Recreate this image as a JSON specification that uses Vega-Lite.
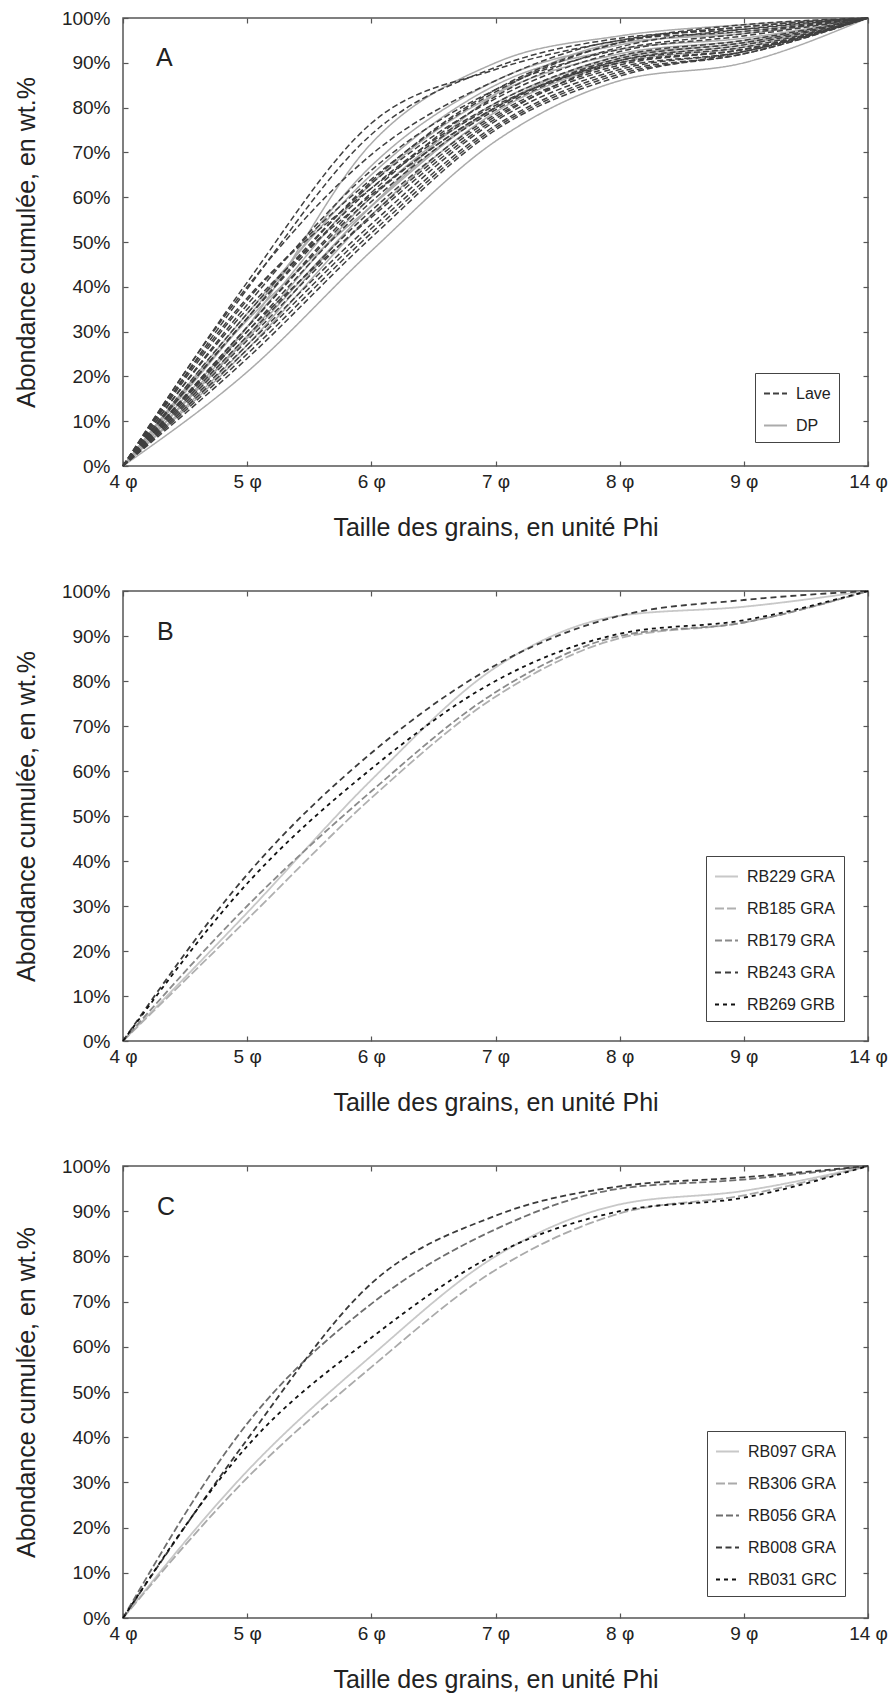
{
  "$schema": "https://vega.github.io/schema/vega-lite/v6.json",
  "background": "white",
  "padding": {"left": 13, "top": 8, "right": 5, "bottom": 5},
  "config": {
    "font": "Liberation Sans",
    "view": {"stroke": "#555555", "strokeWidth": 1.5},
    "axis": {"domain": false, "grid": false, "tickColor": "#555555", "tickSize": -5, "tickWidth": 1.2,
      "labelFont": "Liberation Sans", "labelFontSize": 19, "labelColor": "#222222",
      "titleFont": "Liberation Sans", "titleFontSize": 25, "titleFontWeight": "normal", "titleColor": "#222222"},
    "legend": {"orient": "none", "strokeColor": "#444444", "padding": 8, "symbolType": "stroke", "symbolSize": 529,
      "symbolStrokeWidth": 1.8, "labelFont": "Liberation Sans", "labelFontSize": 16, "labelColor": "#222222",
      "labelOffset": 8, "rowPadding": 11, "fillColor": "white"}
  },
  "datasets": {
    "A": [
      {"s":"D01","t":"DP","phi":"4 φ","v":0},{"s":"D01","t":"DP","phi":"5 φ","v":31},{"s":"D01","t":"DP","phi":"6 φ","v":72},{"s":"D01","t":"DP","phi":"7 φ","v":90},{"s":"D01","t":"DP","phi":"8 φ","v":96},{"s":"D01","t":"DP","phi":"9 φ","v":98.5},{"s":"D01","t":"DP","phi":"14 φ","v":100},
      {"s":"D02","t":"DP","phi":"4 φ","v":0},{"s":"D02","t":"DP","phi":"5 φ","v":33},{"s":"D02","t":"DP","phi":"6 φ","v":67},{"s":"D02","t":"DP","phi":"7 φ","v":86},{"s":"D02","t":"DP","phi":"8 φ","v":94},{"s":"D02","t":"DP","phi":"9 φ","v":97},{"s":"D02","t":"DP","phi":"14 φ","v":100},
      {"s":"D03","t":"DP","phi":"4 φ","v":0},{"s":"D03","t":"DP","phi":"5 φ","v":28.5},{"s":"D03","t":"DP","phi":"6 φ","v":58},{"s":"D03","t":"DP","phi":"7 φ","v":83},{"s":"D03","t":"DP","phi":"8 φ","v":94.5},{"s":"D03","t":"DP","phi":"9 φ","v":96.5},{"s":"D03","t":"DP","phi":"14 φ","v":100},
      {"s":"D04","t":"DP","phi":"4 φ","v":0},{"s":"D04","t":"DP","phi":"5 φ","v":32.5},{"s":"D04","t":"DP","phi":"6 φ","v":58},{"s":"D04","t":"DP","phi":"7 φ","v":80},{"s":"D04","t":"DP","phi":"8 φ","v":91.5},{"s":"D04","t":"DP","phi":"9 φ","v":94.5},{"s":"D04","t":"DP","phi":"14 φ","v":100},
      {"s":"D05","t":"DP","phi":"4 φ","v":0},{"s":"D05","t":"DP","phi":"5 φ","v":31},{"s":"D05","t":"DP","phi":"6 φ","v":63},{"s":"D05","t":"DP","phi":"7 φ","v":83},{"s":"D05","t":"DP","phi":"8 φ","v":92},{"s":"D05","t":"DP","phi":"9 φ","v":95},{"s":"D05","t":"DP","phi":"14 φ","v":100},
      {"s":"D06","t":"DP","phi":"4 φ","v":0},{"s":"D06","t":"DP","phi":"5 φ","v":29},{"s":"D06","t":"DP","phi":"6 φ","v":60},{"s":"D06","t":"DP","phi":"7 φ","v":81},{"s":"D06","t":"DP","phi":"8 φ","v":91},{"s":"D06","t":"DP","phi":"9 φ","v":94.5},{"s":"D06","t":"DP","phi":"14 φ","v":100},
      {"s":"D07","t":"DP","phi":"4 φ","v":0},{"s":"D07","t":"DP","phi":"5 φ","v":27},{"s":"D07","t":"DP","phi":"6 φ","v":58},{"s":"D07","t":"DP","phi":"7 φ","v":80},{"s":"D07","t":"DP","phi":"8 φ","v":90.5},{"s":"D07","t":"DP","phi":"9 φ","v":94},{"s":"D07","t":"DP","phi":"14 φ","v":100},
      {"s":"D08","t":"DP","phi":"4 φ","v":0},{"s":"D08","t":"DP","phi":"5 φ","v":26},{"s":"D08","t":"DP","phi":"6 φ","v":56},{"s":"D08","t":"DP","phi":"7 φ","v":79},{"s":"D08","t":"DP","phi":"8 φ","v":90},{"s":"D08","t":"DP","phi":"9 φ","v":93.5},{"s":"D08","t":"DP","phi":"14 φ","v":100},
      {"s":"D09","t":"DP","phi":"4 φ","v":0},{"s":"D09","t":"DP","phi":"5 φ","v":21},{"s":"D09","t":"DP","phi":"6 φ","v":48},{"s":"D09","t":"DP","phi":"7 φ","v":72.5},{"s":"D09","t":"DP","phi":"8 φ","v":86},{"s":"D09","t":"DP","phi":"9 φ","v":90},{"s":"D09","t":"DP","phi":"14 φ","v":100},
      {"s":"D10","t":"DP","phi":"4 φ","v":0},{"s":"D10","t":"DP","phi":"5 φ","v":34},{"s":"D10","t":"DP","phi":"6 φ","v":65},{"s":"D10","t":"DP","phi":"7 φ","v":85},{"s":"D10","t":"DP","phi":"8 φ","v":93},{"s":"D10","t":"DP","phi":"9 φ","v":95.5},{"s":"D10","t":"DP","phi":"14 φ","v":100},
      {"s":"L01","t":"Lave","phi":"4 φ","v":0},{"s":"L01","t":"Lave","phi":"5 φ","v":41},{"s":"L01","t":"Lave","phi":"6 φ","v":76.5},{"s":"L01","t":"Lave","phi":"7 φ","v":88.5},{"s":"L01","t":"Lave","phi":"8 φ","v":95},{"s":"L01","t":"Lave","phi":"9 φ","v":98.5},{"s":"L01","t":"Lave","phi":"14 φ","v":100},
      {"s":"L02","t":"Lave","phi":"4 φ","v":0},{"s":"L02","t":"Lave","phi":"5 φ","v":39.5},{"s":"L02","t":"Lave","phi":"6 φ","v":74},{"s":"L02","t":"Lave","phi":"7 φ","v":89},{"s":"L02","t":"Lave","phi":"8 φ","v":95.5},{"s":"L02","t":"Lave","phi":"9 φ","v":97.5},{"s":"L02","t":"Lave","phi":"14 φ","v":100},
      {"s":"L03","t":"Lave","phi":"4 φ","v":0},{"s":"L03","t":"Lave","phi":"5 φ","v":40},{"s":"L03","t":"Lave","phi":"6 φ","v":69.5},{"s":"L03","t":"Lave","phi":"7 φ","v":86},{"s":"L03","t":"Lave","phi":"8 φ","v":95},{"s":"L03","t":"Lave","phi":"9 φ","v":97},{"s":"L03","t":"Lave","phi":"14 φ","v":100},
      {"s":"L04","t":"Lave","phi":"4 φ","v":0},{"s":"L04","t":"Lave","phi":"5 φ","v":37},{"s":"L04","t":"Lave","phi":"6 φ","v":64},{"s":"L04","t":"Lave","phi":"7 φ","v":83.5},{"s":"L04","t":"Lave","phi":"8 φ","v":94.5},{"s":"L04","t":"Lave","phi":"9 φ","v":98},{"s":"L04","t":"Lave","phi":"14 φ","v":100},
      {"s":"L05","t":"Lave","phi":"4 φ","v":0},{"s":"L05","t":"Lave","phi":"5 φ","v":35},{"s":"L05","t":"Lave","phi":"6 φ","v":60.5},{"s":"L05","t":"Lave","phi":"7 φ","v":80},{"s":"L05","t":"Lave","phi":"8 φ","v":90.5},{"s":"L05","t":"Lave","phi":"9 φ","v":93.5},{"s":"L05","t":"Lave","phi":"14 φ","v":100},
      {"s":"L06","t":"Lave","phi":"4 φ","v":0},{"s":"L06","t":"Lave","phi":"5 φ","v":37.5},{"s":"L06","t":"Lave","phi":"6 φ","v":62},{"s":"L06","t":"Lave","phi":"7 φ","v":80.5},{"s":"L06","t":"Lave","phi":"8 φ","v":90},{"s":"L06","t":"Lave","phi":"9 φ","v":93},{"s":"L06","t":"Lave","phi":"14 φ","v":100},
      {"s":"L07","t":"Lave","phi":"4 φ","v":0},{"s":"L07","t":"Lave","phi":"5 φ","v":36},{"s":"L07","t":"Lave","phi":"6 φ","v":66},{"s":"L07","t":"Lave","phi":"7 φ","v":84},{"s":"L07","t":"Lave","phi":"8 φ","v":93},{"s":"L07","t":"Lave","phi":"9 φ","v":96.5},{"s":"L07","t":"Lave","phi":"14 φ","v":100},
      {"s":"L08","t":"Lave","phi":"4 φ","v":0},{"s":"L08","t":"Lave","phi":"5 φ","v":34},{"s":"L08","t":"Lave","phi":"6 φ","v":63},{"s":"L08","t":"Lave","phi":"7 φ","v":82},{"s":"L08","t":"Lave","phi":"8 φ","v":92.5},{"s":"L08","t":"Lave","phi":"9 φ","v":96},{"s":"L08","t":"Lave","phi":"14 φ","v":100},
      {"s":"L09","t":"Lave","phi":"4 φ","v":0},{"s":"L09","t":"Lave","phi":"5 φ","v":33},{"s":"L09","t":"Lave","phi":"6 φ","v":62},{"s":"L09","t":"Lave","phi":"7 φ","v":81},{"s":"L09","t":"Lave","phi":"8 φ","v":91.5},{"s":"L09","t":"Lave","phi":"9 φ","v":95},{"s":"L09","t":"Lave","phi":"14 φ","v":100},
      {"s":"L10","t":"Lave","phi":"4 φ","v":0},{"s":"L10","t":"Lave","phi":"5 φ","v":31},{"s":"L10","t":"Lave","phi":"6 φ","v":60},{"s":"L10","t":"Lave","phi":"7 φ","v":80},{"s":"L10","t":"Lave","phi":"8 φ","v":91},{"s":"L10","t":"Lave","phi":"9 φ","v":94.5},{"s":"L10","t":"Lave","phi":"14 φ","v":100},
      {"s":"L11","t":"Lave","phi":"4 φ","v":0},{"s":"L11","t":"Lave","phi":"5 φ","v":30},{"s":"L11","t":"Lave","phi":"6 φ","v":59},{"s":"L11","t":"Lave","phi":"7 φ","v":79.5},{"s":"L11","t":"Lave","phi":"8 φ","v":90.5},{"s":"L11","t":"Lave","phi":"9 φ","v":94},{"s":"L11","t":"Lave","phi":"14 φ","v":100},
      {"s":"L12","t":"Lave","phi":"4 φ","v":0},{"s":"L12","t":"Lave","phi":"5 φ","v":30},{"s":"L12","t":"Lave","phi":"6 φ","v":55.5},{"s":"L12","t":"Lave","phi":"7 φ","v":77.5},{"s":"L12","t":"Lave","phi":"8 φ","v":90},{"s":"L12","t":"Lave","phi":"9 φ","v":93},{"s":"L12","t":"Lave","phi":"14 φ","v":100},
      {"s":"L13","t":"Lave","phi":"4 φ","v":0},{"s":"L13","t":"Lave","phi":"5 φ","v":29},{"s":"L13","t":"Lave","phi":"6 φ","v":57},{"s":"L13","t":"Lave","phi":"7 φ","v":78.5},{"s":"L13","t":"Lave","phi":"8 φ","v":89.5},{"s":"L13","t":"Lave","phi":"9 φ","v":93},{"s":"L13","t":"Lave","phi":"14 φ","v":100},
      {"s":"L14","t":"Lave","phi":"4 φ","v":0},{"s":"L14","t":"Lave","phi":"5 φ","v":28},{"s":"L14","t":"Lave","phi":"6 φ","v":56},{"s":"L14","t":"Lave","phi":"7 φ","v":78},{"s":"L14","t":"Lave","phi":"8 φ","v":89},{"s":"L14","t":"Lave","phi":"9 φ","v":92.5},{"s":"L14","t":"Lave","phi":"14 φ","v":100},
      {"s":"L15","t":"Lave","phi":"4 φ","v":0},{"s":"L15","t":"Lave","phi":"5 φ","v":27},{"s":"L15","t":"Lave","phi":"6 φ","v":54},{"s":"L15","t":"Lave","phi":"7 φ","v":77},{"s":"L15","t":"Lave","phi":"8 φ","v":88.5},{"s":"L15","t":"Lave","phi":"9 φ","v":92.5},{"s":"L15","t":"Lave","phi":"14 φ","v":100},
      {"s":"L16","t":"Lave","phi":"4 φ","v":0},{"s":"L16","t":"Lave","phi":"5 φ","v":26},{"s":"L16","t":"Lave","phi":"6 φ","v":53},{"s":"L16","t":"Lave","phi":"7 φ","v":76},{"s":"L16","t":"Lave","phi":"8 φ","v":88},{"s":"L16","t":"Lave","phi":"9 φ","v":92},{"s":"L16","t":"Lave","phi":"14 φ","v":100},
      {"s":"L17","t":"Lave","phi":"4 φ","v":0},{"s":"L17","t":"Lave","phi":"5 φ","v":25},{"s":"L17","t":"Lave","phi":"6 φ","v":52},{"s":"L17","t":"Lave","phi":"7 φ","v":75.5},{"s":"L17","t":"Lave","phi":"8 φ","v":87.5},{"s":"L17","t":"Lave","phi":"9 φ","v":92},{"s":"L17","t":"Lave","phi":"14 φ","v":100},
      {"s":"L18","t":"Lave","phi":"4 φ","v":0},{"s":"L18","t":"Lave","phi":"5 φ","v":24},{"s":"L18","t":"Lave","phi":"6 φ","v":51},{"s":"L18","t":"Lave","phi":"7 φ","v":75},{"s":"L18","t":"Lave","phi":"8 φ","v":87},{"s":"L18","t":"Lave","phi":"9 φ","v":92.5},{"s":"L18","t":"Lave","phi":"14 φ","v":100},
      {"s":"L19","t":"Lave","phi":"4 φ","v":0},{"s":"L19","t":"Lave","phi":"5 φ","v":33},{"s":"L19","t":"Lave","phi":"6 φ","v":63.5},{"s":"L19","t":"Lave","phi":"7 φ","v":84},{"s":"L19","t":"Lave","phi":"8 φ","v":94.5},{"s":"L19","t":"Lave","phi":"9 φ","v":98},{"s":"L19","t":"Lave","phi":"14 φ","v":100},
      {"s":"L20","t":"Lave","phi":"4 φ","v":0},{"s":"L20","t":"Lave","phi":"5 φ","v":31},{"s":"L20","t":"Lave","phi":"6 φ","v":61},{"s":"L20","t":"Lave","phi":"7 φ","v":82.5},{"s":"L20","t":"Lave","phi":"8 φ","v":93.5},{"s":"L20","t":"Lave","phi":"9 φ","v":97.5},{"s":"L20","t":"Lave","phi":"14 φ","v":100}
    ],
    "B": [
      {"s":"RB229 GRA","phi":"4 φ","v":0},{"s":"RB229 GRA","phi":"5 φ","v":28.5},{"s":"RB229 GRA","phi":"6 φ","v":58},{"s":"RB229 GRA","phi":"7 φ","v":83},{"s":"RB229 GRA","phi":"8 φ","v":94.5},{"s":"RB229 GRA","phi":"9 φ","v":96.5},{"s":"RB229 GRA","phi":"14 φ","v":100},
      {"s":"RB185 GRA","phi":"4 φ","v":0},{"s":"RB185 GRA","phi":"5 φ","v":27},{"s":"RB185 GRA","phi":"6 φ","v":54},{"s":"RB185 GRA","phi":"7 φ","v":76.5},{"s":"RB185 GRA","phi":"8 φ","v":89.5},{"s":"RB185 GRA","phi":"9 φ","v":93},{"s":"RB185 GRA","phi":"14 φ","v":100},
      {"s":"RB179 GRA","phi":"4 φ","v":0},{"s":"RB179 GRA","phi":"5 φ","v":30},{"s":"RB179 GRA","phi":"6 φ","v":55.5},{"s":"RB179 GRA","phi":"7 φ","v":77.5},{"s":"RB179 GRA","phi":"8 φ","v":90},{"s":"RB179 GRA","phi":"9 φ","v":93},{"s":"RB179 GRA","phi":"14 φ","v":100},
      {"s":"RB243 GRA","phi":"4 φ","v":0},{"s":"RB243 GRA","phi":"5 φ","v":37},{"s":"RB243 GRA","phi":"6 φ","v":64},{"s":"RB243 GRA","phi":"7 φ","v":83.5},{"s":"RB243 GRA","phi":"8 φ","v":94.5},{"s":"RB243 GRA","phi":"9 φ","v":98},{"s":"RB243 GRA","phi":"14 φ","v":100},
      {"s":"RB269 GRB","phi":"4 φ","v":0},{"s":"RB269 GRB","phi":"5 φ","v":35},{"s":"RB269 GRB","phi":"6 φ","v":60.5},{"s":"RB269 GRB","phi":"7 φ","v":80},{"s":"RB269 GRB","phi":"8 φ","v":90.5},{"s":"RB269 GRB","phi":"9 φ","v":93.5},{"s":"RB269 GRB","phi":"14 φ","v":100}
    ],
    "C": [
      {"s":"RB097 GRA","phi":"4 φ","v":0},{"s":"RB097 GRA","phi":"5 φ","v":32.5},{"s":"RB097 GRA","phi":"6 φ","v":58},{"s":"RB097 GRA","phi":"7 φ","v":80},{"s":"RB097 GRA","phi":"8 φ","v":91.5},{"s":"RB097 GRA","phi":"9 φ","v":94.5},{"s":"RB097 GRA","phi":"14 φ","v":100},
      {"s":"RB306 GRA","phi":"4 φ","v":0},{"s":"RB306 GRA","phi":"5 φ","v":31},{"s":"RB306 GRA","phi":"6 φ","v":55.5},{"s":"RB306 GRA","phi":"7 φ","v":77},{"s":"RB306 GRA","phi":"8 φ","v":89.5},{"s":"RB306 GRA","phi":"9 φ","v":93.5},{"s":"RB306 GRA","phi":"14 φ","v":100},
      {"s":"RB056 GRA","phi":"4 φ","v":0},{"s":"RB056 GRA","phi":"5 φ","v":43},{"s":"RB056 GRA","phi":"6 φ","v":69.5},{"s":"RB056 GRA","phi":"7 φ","v":86},{"s":"RB056 GRA","phi":"8 φ","v":95},{"s":"RB056 GRA","phi":"9 φ","v":97},{"s":"RB056 GRA","phi":"14 φ","v":100},
      {"s":"RB008 GRA","phi":"4 φ","v":0},{"s":"RB008 GRA","phi":"5 φ","v":39.5},{"s":"RB008 GRA","phi":"6 φ","v":74},{"s":"RB008 GRA","phi":"7 φ","v":89},{"s":"RB008 GRA","phi":"8 φ","v":95.5},{"s":"RB008 GRA","phi":"9 φ","v":97.5},{"s":"RB008 GRA","phi":"14 φ","v":100},
      {"s":"RB031 GRC","phi":"4 φ","v":0},{"s":"RB031 GRC","phi":"5 φ","v":38},{"s":"RB031 GRC","phi":"6 φ","v":62},{"s":"RB031 GRC","phi":"7 φ","v":80.5},{"s":"RB031 GRC","phi":"8 φ","v":90},{"s":"RB031 GRC","phi":"9 φ","v":93},{"s":"RB031 GRC","phi":"14 φ","v":100}
    ]
  },
  "spacing": 40,
  "resolve": {"scale": {"x": "independent", "y": "independent", "color": "independent", "strokeDash": "independent"}},
  "vconcat": [
    {
      "width": 745, "height": 448,
      "data": {"name": "A"},
      "layer": [
        {
          "mark": {"type": "line", "interpolate": "monotone", "strokeWidth": 1.5},
          "encoding": {
            "x": {"field": "phi", "type": "ordinal", "scale": {"type": "point", "padding": 0, "domain": ["4 φ","5 φ","6 φ","7 φ","8 φ","9 φ","14 φ"]},
              "axis": {"orient": "bottom", "title": "Taille des grains, en unité Phi", "labelAngle": 0, "labelPadding": 11, "titlePadding": 24}},
            "y": {"field": "v", "type": "quantitative", "scale": {"domain": [0, 100], "nice": false},
              "axis": {"orient": "left", "values": [0,10,20,30,40,50,60,70,80,90,100], "labelExpr": "datum.value + '%'", "title": "Abondance cumulée, en wt.%", "labelPadding": 18, "titlePadding": 22}},
            "color": {"field": "t", "type": "nominal", "scale": {"domain": ["Lave", "DP"], "range": ["#404040", "#ababab"]},
              "legend": {"title": null, "legendX": 632, "legendY": 355}},
            "strokeDash": {"field": "t", "type": "nominal", "scale": {"domain": ["Lave", "DP"], "range": [[6, 3], [1, 0]]},
              "legend": {"title": null, "legendX": 632, "legendY": 355}},
            "detail": {"field": "s"}
          }
        },
        {
          "data": {"values": [{"lab": "A"}]},
          "mark": {"type": "text", "align": "left", "baseline": "middle", "fontSize": 25, "dx": 33, "color": "#222222"},
          "encoding": {
            "text": {"field": "lab"},
            "x": {"datum": "4 φ", "type": "ordinal", "axis": {"orient": "top", "labels": false, "title": null}},
            "y": {"datum": 91, "type": "quantitative", "axis": {"orient": "right", "labels": false, "title": null, "values": [0,10,20,30,40,50,60,70,80,90,100]}}
          }
        }
      ],
      "resolve": {"axis": {"x": "independent", "y": "independent"}}
    },
    {
      "width": 745, "height": 450,
      "data": {"name": "B"},
      "layer": [
        {
          "mark": {"type": "line", "interpolate": "monotone", "strokeWidth": 1.8},
          "encoding": {
            "x": {"field": "phi", "type": "ordinal", "scale": {"type": "point", "padding": 0, "domain": ["4 φ","5 φ","6 φ","7 φ","8 φ","9 φ","14 φ"]},
              "axis": {"orient": "bottom", "title": "Taille des grains, en unité Phi", "labelAngle": 0, "labelPadding": 11, "titlePadding": 24}},
            "y": {"field": "v", "type": "quantitative", "scale": {"domain": [0, 100], "nice": false},
              "axis": {"orient": "left", "values": [0,10,20,30,40,50,60,70,80,90,100], "labelExpr": "datum.value + '%'", "title": "Abondance cumulée, en wt.%", "labelPadding": 18, "titlePadding": 22}},
            "color": {"field": "s", "type": "nominal", "scale": {"domain": ["RB229 GRA","RB185 GRA","RB179 GRA","RB243 GRA","RB269 GRB"], "range": ["#c8c8c8","#b0b0b0","#8a8a8a","#3c3c3c","#111111"]},
              "legend": {"title": null, "legendX": 583, "legendY": 265}},
            "strokeDash": {"field": "s", "type": "nominal", "scale": {"domain": ["RB229 GRA","RB185 GRA","RB179 GRA","RB243 GRA","RB269 GRB"], "range": [[1,0],[9,3],[7,3],[6,4],[4,4]]},
              "legend": {"title": null, "legendX": 583, "legendY": 265}}
          }
        },
        {
          "data": {"values": [{"lab": "B"}]},
          "mark": {"type": "text", "align": "left", "baseline": "middle", "fontSize": 25, "dx": 34, "color": "#222222"},
          "encoding": {
            "text": {"field": "lab"},
            "x": {"datum": "4 φ", "type": "ordinal", "axis": {"orient": "top", "labels": false, "title": null}},
            "y": {"datum": 91, "type": "quantitative", "axis": {"orient": "right", "labels": false, "title": null, "values": [0,10,20,30,40,50,60,70,80,90,100]}}
          }
        }
      ],
      "resolve": {"axis": {"x": "independent", "y": "independent"}}
    },
    {
      "width": 745, "height": 452,
      "data": {"name": "C"},
      "layer": [
        {
          "mark": {"type": "line", "interpolate": "monotone", "strokeWidth": 1.8},
          "encoding": {
            "x": {"field": "phi", "type": "ordinal", "scale": {"type": "point", "padding": 0, "domain": ["4 φ","5 φ","6 φ","7 φ","8 φ","9 φ","14 φ"]},
              "axis": {"orient": "bottom", "title": "Taille des grains, en unité Phi", "labelAngle": 0, "labelPadding": 11, "titlePadding": 24}},
            "y": {"field": "v", "type": "quantitative", "scale": {"domain": [0, 100], "nice": false},
              "axis": {"orient": "left", "values": [0,10,20,30,40,50,60,70,80,90,100], "labelExpr": "datum.value + '%'", "title": "Abondance cumulée, en wt.%", "labelPadding": 18, "titlePadding": 22}},
            "color": {"field": "s", "type": "nominal", "scale": {"domain": ["RB097 GRA","RB306 GRA","RB056 GRA","RB008 GRA","RB031 GRC"], "range": ["#c8c8c8","#aaaaaa","#6e6e6e","#3a3a3a","#111111"]},
              "legend": {"title": null, "legendX": 584, "legendY": 265}},
            "strokeDash": {"field": "s", "type": "nominal", "scale": {"domain": ["RB097 GRA","RB306 GRA","RB056 GRA","RB008 GRA","RB031 GRC"], "range": [[1,0],[9,3],[7,3],[6,3.5],[4,4]]},
              "legend": {"title": null, "legendX": 584, "legendY": 265}}
          }
        },
        {
          "data": {"values": [{"lab": "C"}]},
          "mark": {"type": "text", "align": "left", "baseline": "middle", "fontSize": 25, "dx": 34, "color": "#222222"},
          "encoding": {
            "text": {"field": "lab"},
            "x": {"datum": "4 φ", "type": "ordinal", "axis": {"orient": "top", "labels": false, "title": null}},
            "y": {"datum": 91, "type": "quantitative", "axis": {"orient": "right", "labels": false, "title": null, "values": [0,10,20,30,40,50,60,70,80,90,100]}}
          }
        }
      ],
      "resolve": {"axis": {"x": "independent", "y": "independent"}}
    }
  ]
}
